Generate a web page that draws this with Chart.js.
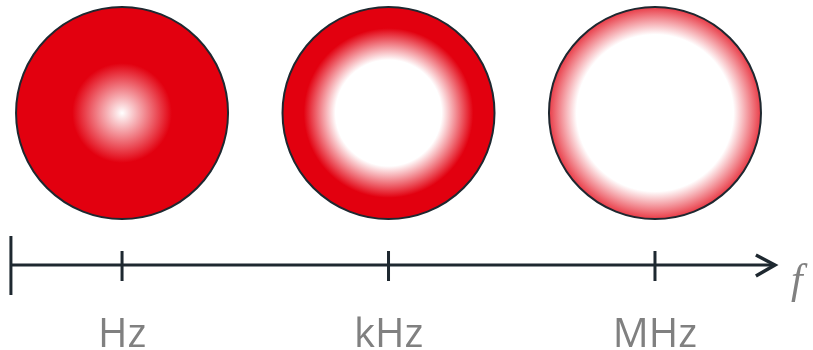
<!DOCTYPE html>
<html>
<head>
<meta charset="utf-8">
<script src="https://cdn.jsdelivr.net/npm/chart.js@4"></script>
<style>
  body { margin: 0; background: #fff; }
  canvas { display: block; }
</style>
</head>
<body>
<canvas id="skin" width="813" height="350"></canvas>
<script>
// frequences et profil du courant dans le conducteur
const freqLabels = ['Hz', 'kHz', 'MHz'];
const freqPos = [0, 1, 2];
// fraction du rayon ou le blanc s'arrete, et ou le rouge est plein
const whiteCore = [0, 0.5, 0.74];
const redFull = [0.47, 0.8, 1.08];

const red = '#e2000f';
const dark = '#1e2830';
const grey = '#808080';
const circleY = 113;
const axisY = 265;
const R = 106;

function skinFill(ctx) {
    const chart = ctx.chart;
    if (ctx.type !== 'data' || !chart.chartArea) return red;
    const i = ctx.dataIndex;
    const cx = chart.scales.x.getPixelForValue(freqPos[i]);
    const cy = chart.scales.y.getPixelForValue(circleY);
    const outer = Math.max(1, redFull[i]);
    const g = chart.ctx.createRadialGradient(cx, cy, 0, cx, cy, R * outer);
    g.addColorStop(whiteCore[i] / outer, '#ffffff');
    g.addColorStop(redFull[i] / outer, red);
    if (outer === 1) g.addColorStop(1, red);
    return g;
}

// l'axe des frequences avec la fleche
const axePlugin = {
    id: 'axe',
    afterDraw(chart) {
        const c = chart.ctx;
        const x = chart.scales.x, y = chart.scales.y;
        const yy = y.getPixelForValue(axisY);
        const x0 = x.getPixelForValue(-0.417);
        const x1 = x.getPixelForValue(2.45);
        c.save();
        c.strokeStyle = dark;
        c.lineWidth = 3;
        c.beginPath();
        c.moveTo(x0, yy); c.lineTo(x1 - 2, yy);
        c.moveTo(x0, yy - 29); c.lineTo(x0, yy + 30);
        freqPos.forEach(v => {
            const px = x.getPixelForValue(v);
            c.moveTo(px, yy - 14); c.lineTo(px, yy + 16);
        });
        c.stroke();
        c.lineWidth = 3.5;
        c.lineJoin = 'miter';
        c.beginPath();
        c.moveTo(x1 - 19, yy - 10);
        c.lineTo(x1, yy);
        c.lineTo(x1 - 19, yy + 11);
        c.stroke();
        c.fillStyle = grey;
        c.font = 'italic 42px "Liberation Serif"';
        c.textBaseline = 'alphabetic';
        c.fillText('f', x1 + 16, yy + 28);
        c.restore();
    }
};

new Chart(document.getElementById('skin'), {
    type: 'scatter',
    data: {
        datasets: [{
            data: freqPos.map(v => ({ x: v, y: circleY })),
            pointRadius: R,
            pointHoverRadius: R,
            pointBorderWidth: 2,
            pointHoverBorderWidth: 2,
            pointBorderColor: dark,
            pointBackgroundColor: skinFill,
            pointHoverBackgroundColor: skinFill,
            clip: false
        }]
    },
    options: {
        responsive: false,
        animation: false,
        devicePixelRatio: 1,
        events: [],
        layout: { padding: 0, autoPadding: false },
        plugins: { legend: { display: false }, tooltip: { enabled: false } },
        scales: {
            x: {
                type: 'linear',
                min: -0.458,
                max: 2.593,
                afterBuildTicks: s => { s.ticks = freqPos.map(v => ({ value: v })); },
                afterFit: s => { s.height = 60; },
                grid: { display: false },
                border: { display: false },
                ticks: {
                    callback: (v, i) => freqLabels[i],
                    color: grey,
                    font: { family: '"Open Sans"', size: 40 },
                    padding: 14,
                    autoSkip: false,
                    maxRotation: 0
                }
            },
            y: {
                type: 'linear',
                display: false,
                reverse: true,
                min: 0,
                max: 290
            }
        }
    },
    plugins: [axePlugin]
});
</script>
</body>
</html>
